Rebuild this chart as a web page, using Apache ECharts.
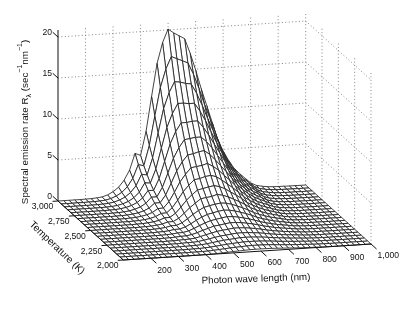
<!DOCTYPE html>
<html><head><meta charset="utf-8"><style>html,body{margin:0;padding:0;background:#fff}#c{width:415px;height:312px}</style>
<script src="https://cdn.jsdelivr.net/npm/echarts@6/dist/echarts.min.js"></script></head>
<body><div id="c"></div><script>
const temperatures=[3000,2950,2900,2850,2800,2750,2700,2650,2600,2550,2500,2450,2400,2350,2300,2250,2200,2150,2100,2050,2000];
const wavelengths=[100,120,140,160,180,200,220,240,260,280,300,320,340,360,380,400,420,440,460,480,500,520,540,560,580,600,620,640,660,680,700,720,740,760,780,800,820,840,860,880,900,920,940,960,980,1000];
const tempTicks=[3000,2750,2500,2250,2000];
const tempTickLabels=['3,000','2,750','2,500','2,250','2,000'];
const waveTicks=[200,300,400,500,600,700,800,900,1000];
const waveTickLabels=['200','300','400','500','600','700','800','900','1,000'];
const rateTicks=[0,5,10,15,20];
const z100=[0,0,0,0,0,0,0,0,0,0,0,0,0,0,0,0,0,0,0,0,0];
const z120=[0,0,0,0,0,0,0,0,0,0,0,0,0,0,0,0,0,0,0,0,0];
const z140=[0,0,0,0,0,0,0,0,0,0,0,0,0,0,0,0,0,0,0,0,0];
const z160=[0,0,0,0,0,0,0,0,0,0,0,0,0,0,0,0,0,0,0,0,0];
const z180=[0,0,0,0,0,0,0,0,0,0,0,0,0,0,0,0,0,0,0,0,0];
const z200=[.01,.01,0,0,0,0,0,0,0,0,0,0,0,0,0,0,0,0,0,0,0];
const z220=[.03,.02,.01,.01,0,0,0,0,0,0,0,0,0,0,0,0,0,0,0,0,0];
const z240=[.07,.05,.035,.025,.02,.01,.01,0,0,0,0,0,0,0,0,0,0,0,0,0,0];
const z260=[.15,.11,.08,.057,.04,.03,.02,.01,.01,0,0,0,0,0,0,0,0,0,0,0,0];
const z280=[.35,.26,.19,.14,.10,.07,.05,.04,.025,.02,.01,.01,0,0,0,0,0,0,0,0,0];
const z300=[.7,.53,.40,.30,.22,.16,.12,.08,.06,.04,.03,.02,.013,.01,.005,0,0,0,0,0,0];
const z320=[1.2,.93,.72,.54,.41,.31,.23,.17,.12,.09,.06,.04,.03,.02,.01,.01,.01,0,0,0,0];
const z340=[2.0,1.57,1.23,.95,.73,.55,.42,.31,.23,.17,.12,.08,.06,.04,.03,.02,.01,.01,0,0,0];
const z360=[3.2,2.55,2.02,1.59,1.24,.95,.73,.55,.41,.30,.22,.16,.11,.08,.06,.04,.03,.02,.01,.01,0];
const z380=[5.2,4.19,3.37,2.68,2.11,1.65,1.28,.98,.75,.57,.42,.31,.23,.16,.11,.08,.06,.03,.02,.01,.01];
const z400=[4.9,4.0,3.24,2.61,2.08,1.65,1.3,1.01,.78,.59,.44,.33,.24,.18,.13,.09,.06,.05,.03,.02,.01];
const z420=[7.8,6.43,5.26,4.27,3.45,2.76,2.19,1.73,1.35,1.04,.79,.60,.45,.33,.24,.17,.12,.09,.06,.04,.03];
const z440=[12,9.97,8.24,6.76,5.51,4.45,3.58,2.84,2.24,1.75,1.36,1.04,.79,.59,.44,.32,.23,.16,.11,.08,.05];
const z460=[16,13.4,11.2,9.24,7.6,6.2,5.02,4.04,3.22,2.54,1.99,1.54,1.18,.89,.67,.50,.36,.26,.18,.13,.09];
const z480=[18.5,15.6,13.1,10.9,9.06,7.46,6.09,4.94,3.97,3.17,2.5,1.96,1.52,1.17,.88,.66,.49,.36,.25,.18,.12];
const z500=[20.1,17.1,14.4,12.1,10.1,8.4,6.9,5.7,4.6,3.7,3.0,2.3,1.8,1.4,1.1,.82,.61,.45,.33,.24,.17];
const z520=[19.6,16.8,14.3,12.1,10.1,8.5,7.0,5.8,4.7,3.84,3.1,2.47,1.95,1.53,1.18,.91,.68,.51,.38,.27,.19];
const z540=[19.2,16.5,14.1,12.0,10.2,8.6,7.2,5.9,4.9,4.0,3.2,2.6,2.1,1.65,1.29,.99,.76,.57,.43,.31,.23];
const z560=[18.8,16.2,14.0,12.0,10.2,8.6,7.3,6.1,5.0,4.1,3.4,2.7,2.2,1.76,1.39,1.08,.83,.64,.48,.35,.26];
const z580=[17,14.8,12.8,11.0,9.4,8.0,6.8,5.7,4.8,3.95,3.25,2.65,2.15,1.73,1.37,1.08,.84,.65,.49,.37,.27];
const z600=[14.9,13.0,11.3,9.8,8.4,7.2,6.1,5.2,4.35,3.64,3.01,2.47,2.02,1.63,1.31,1.04,.81,.63,.48,.37,.27];
const z620=[12.6,11.05,9.65,8.39,7.26,6.24,5.33,4.54,3.83,3.21,2.68,2.22,1.82,1.48,1.2,.96,.76,.59,.46,.35,.26];
const z640=[10.5,9.25,8.11,7.08,6.15,5.31,4.57,3.91,3.32,2.79,2.34,1.95,1.61,1.32,1.07,.86,.69,.54,.42,.33,.25];
const z660=[8.4,7.43,6.54,5.73,5.0,4.33,3.75,3.22,2.75,2.33,1.97,1.65,1.37,1.12,.92,.75,.60,.47,.37,.29,.22];
const z680=[6.3,5.59,4.94,4.35,3.81,3.32,2.88,2.48,2.13,1.81,1.54,1.29,1.08,.90,.74,.60,.48,.39,.31,.24,.19];
const z700=[4.8,4.27,3.79,3.35,2.94,2.57,2.24,1.94,1.68,1.43,1.22,1.03,.86,.72,.60,.49,.40,.32,.25,.20,.16];
const z720=[3.6,3.21,2.86,2.53,2.24,1.97,1.72,1.49,1.29,1.11,.95,.81,.68,.57,.47,.39,.32,.26,.21,.16,.13];
const z740=[2.6,2.33,2.08,1.85,1.64,1.44,1.27,1.10,.96,.83,.71,.61,.51,.43,.36,.30,.25,.20,.16,.13,.10];
const z760=[1.9,1.71,1.53,1.36,1.21,1.07,.94,.82,.72,.62,.54,.46,.39,.33,.28,.23,.19,.16,.13,.10,.08];
const z780=[1.3,1.17,1.05,.94,.84,.74,.66,.58,.50,.44,.38,.33,.28,.24,.20,.17,.14,.11,.09,.08,.06];
const z800=[.7,.63,.57,.51,.46,.41,.36,.32,.28,.24,.21,.18,.16,.13,.11,.10,.08,.07,.05,.04,.04];
const z820=[.35,.32,.29,.26,.23,.21,.18,.16,.14,.12,.11,.09,.08,.07,.06,.05,.04,.03,.03,.02,.02];
const z840=[.2,.18,.17,.15,.13,.12,.11,.09,.08,.07,.06,.05,.05,.04,.03,.03,.02,.02,.02,.01,.01];
const z860=[.1,.09,.08,.07,.07,.06,.05,.05,.04,.04,.03,.03,.02,.02,.02,.01,.01,.01,.01,.01,.01];
const z880=[.05,.05,.04,.04,.03,.03,.03,.02,.02,.02,.02,.01,.01,.01,.01,.01,.01,0,0,0,0];
const z900=[.03,.03,.02,.02,.02,.02,.01,.01,.01,.01,.01,.01,.01,0,0,0,0,0,0,0,0];
const z920=[.02,.02,.01,.01,.01,.01,.01,.01,.01,0,0,0,0,0,0,0,0,0,0,0,0];
const z940=[.01,.01,.01,.01,.01,0,0,0,0,0,0,0,0,0,0,0,0,0,0,0,0];
const z960=[.01,.01,0,0,0,0,0,0,0,0,0,0,0,0,0,0,0,0,0,0,0];
const z980=[0,0,0,0,0,0,0,0,0,0,0,0,0,0,0,0,0,0,0,0,0];
const z1000=[0,0,0,0,0,0,0,0,0,0,0,0,0,0,0,0,0,0,0,0,0];
const rateByWave=[z100,z120,z140,z160,z180,z200,z220,z240,z260,z280,z300,z320,z340,z360,z380,z400,z420,z440,z460,z480,z500,z520,z540,z560,z580,z600,z620,z640,z660,z680,z700,z720,z740,z760,z780,z800,z820,z840,z860,z880,z900,z920,z940,z960,z980,z1000];

// Orthographic view of the box onto the page plane.
const ORIGIN=[58,201], WAVE_VEC=[247.7,-16], TEMP_VEC=[65.3,59], RATE_SCALE=8.2, RATE_TOP=20.85;
function project(w,t,z){
  const a=(w-100)/900,b=(3000-t)/1000;
  return [ORIGIN[0]+a*WAVE_VEC[0]+b*TEMP_VEC[0], ORIGIN[1]+a*WAVE_VEC[1]+b*TEMP_VEC[1]-z*RATE_SCALE];
}
const FONT='"Liberation Sans",Arial,sans-serif';
const INK='#111';

// Back-to-front quads.
const quads=[];
for(let i=0;i<temperatures.length-1;i++){
  for(let j=wavelengths.length-2;j>=0;j--){
    quads.push([wavelengths[j],wavelengths[j+1],temperatures[i],temperatures[i+1],
      rateByWave[j][i],rateByWave[j+1][i],rateByWave[j+1][i+1],rateByWave[j][i+1]]);
  }
}
const wallSegs=[], axisSegs=[];
waveTicks.forEach(w=>wallSegs.push([w,3000,0,w,3000,RATE_TOP]));
tempTicks.slice(1).forEach(t=>wallSegs.push([1000,t,0,1000,t,RATE_TOP]));
rateTicks.slice(1).forEach(z=>{wallSegs.push([100,3000,z,1000,3000,z]);wallSegs.push([1000,3000,z,1000,2000,z]);});
axisSegs.push([100,3000,0,100,3000,RATE_TOP],[100,3000,0,100,2000,0],[100,2000,0,1000,2000,0]);
rateTicks.forEach(z=>axisSegs.push([100,3000,z,100,3080,z]));
tempTicks.forEach(t=>axisSegs.push([100,t,0,80,t,0]));
waveTicks.forEach(w=>axisSegs.push([w,2000,0,w,1915,0]));

function segItem(stroke,width,dash){
  return function(p,api){
    const a=project(api.value(0),api.value(1),api.value(2)),b=project(api.value(3),api.value(4),api.value(5));
    const s=api.coord(a),e=api.coord(b);
    return {type:'line',shape:{x1:s[0],y1:s[1],x2:e[0],y2:e[1]},style:{stroke:stroke,lineWidth:width,lineDash:dash,fill:null},silent:true};
  };
}
function textItem(align){
  return function(p,api){
    const c=api.coord(project(api.value(0),api.value(1),api.value(2)));
    return {type:'text',x:c[0]+api.value(3),y:c[1]+api.value(4),silent:true,
      style:{text:labels[p.seriesName][p.dataIndex],font:'8.6px '+FONT,fill:'#111',align:align,verticalAlign:'middle'}};
  };
}
const labels={rate:rateTicks.map(String),temp:tempTickLabels,wave:waveTickLabels};
const option={
  animation:false,backgroundColor:'#fff',
  grid:{left:0,right:0,top:0,bottom:0},
  xAxis:{type:'value',min:0,max:415,show:false},
  yAxis:{type:'value',min:0,max:312,inverse:true,show:false},
  graphic:[
    {type:'text',x:256,y:279,rotation:0.035,silent:true,style:{text:'Photon wave length (nm)',font:'9.8px '+FONT,fill:'#111',align:'center',verticalAlign:'middle'}},
    {type:'text',x:57,y:248,rotation:-0.76,silent:true,style:{text:'Temperature (K)',font:'10px '+FONT,fill:'#111',align:'center',verticalAlign:'middle'}},
    {type:'text',x:25,y:122,rotation:Math.PI/2,silent:true,style:{
      text:'{m|Spectral emission rate R}{s|λ}{m| (sec}{u|−1}{m|nm}{u|−1}{m|)}',align:'center',verticalAlign:'middle',
      rich:{m:{font:'9.8px '+FONT,fill:'#111',lineHeight:16},
            s:{font:'7px '+FONT,fill:'#111',verticalAlign:'bottom',lineHeight:16},
            u:{font:'7px '+FONT,fill:'#111',verticalAlign:'top',lineHeight:16}}}}
  ],
  series:[
    {name:'walls',type:'custom',coordinateSystem:'cartesian2d',clip:false,silent:true,z:1,
     data:wallSegs,renderItem:segItem('#777',0.9,[1,2.4]),encode:{x:0,y:1}},
    {name:'surface',type:'custom',coordinateSystem:'cartesian2d',clip:false,silent:true,z:2,
     data:quads,encode:{x:0,y:2},
     renderItem:function(p,api){
       const w1=api.value(0),w2=api.value(1),t1=api.value(2),t2=api.value(3);
       const pts=[project(w1,t1,api.value(4)),project(w2,t1,api.value(5)),project(w2,t2,api.value(6)),project(w1,t2,api.value(7))].map(q=>api.coord(q));
       return {type:'polygon',shape:{points:pts},style:{fill:'#fff',stroke:'#222',lineWidth:0.85},silent:true};
     }},
    {name:'axes',type:'custom',coordinateSystem:'cartesian2d',clip:false,silent:true,z:3,
     data:axisSegs,renderItem:segItem(INK,1,null),encode:{x:0,y:1}},
    {name:'rate',type:'custom',coordinateSystem:'cartesian2d',clip:false,silent:true,z:4,
     data:rateTicks.map(z=>[100,3000,z,-6,-4]),renderItem:textItem('right'),encode:{x:0,y:1}},
    {name:'temp',type:'custom',coordinateSystem:'cartesian2d',clip:false,silent:true,z:4,
     data:tempTicks.map(t=>[100,t,0,-15.5,6]),renderItem:textItem('center'),encode:{x:0,y:1}},
    {name:'wave',type:'custom',coordinateSystem:'cartesian2d',clip:false,silent:true,z:4,
     data:waveTicks.map(w=>[w,2000,0,6.5,12]),renderItem:textItem('left'),encode:{x:0,y:1}}
  ]
};
echarts.init(document.getElementById('c'),null,{renderer:'canvas'}).setOption(option);
</script></body></html>
